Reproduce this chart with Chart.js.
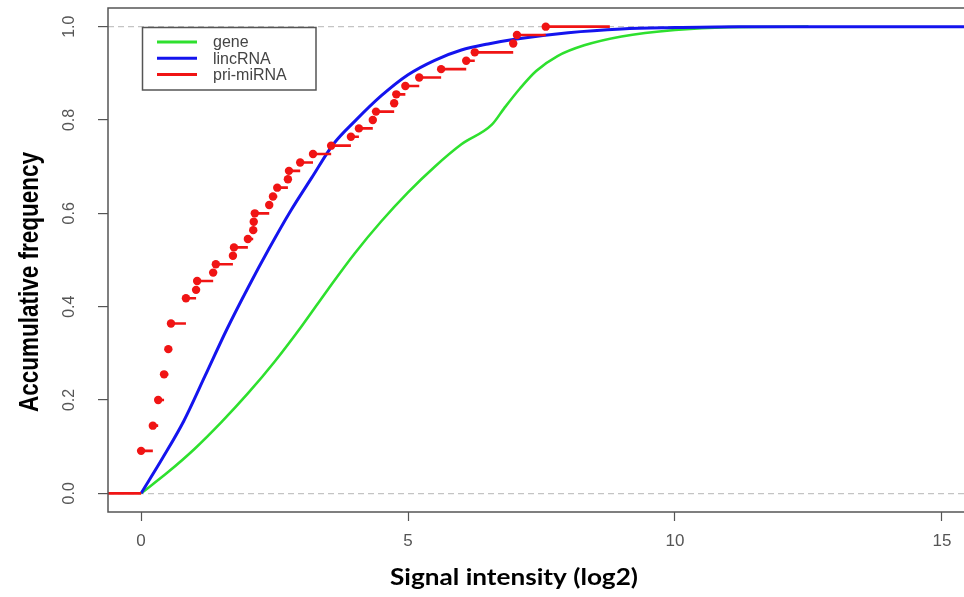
<!DOCTYPE html>
<html lang="en">
<head>
<meta charset="UTF-8">
<title>Accumulative frequency</title>
<script src="https://cdn.jsdelivr.net/npm/chart.js@4"></script>
<style>
  html, body { margin: 0; padding: 0; background: #fff; overflow: hidden; }
  canvas { display: block; }
</style>
</head>
<body>
<canvas id="ecdf" width="980" height="597"></canvas>
<script>
// values
const seriesNames = ['gene', 'lincRNA', 'pri-miRNA'];
const xTicks = [0, 5, 10, 15];
const yTicks = [0, 0.2, 0.4, 0.6, 0.8, 1.0];

const geneX = [0, 0.5, 1.0, 1.5, 2.0, 2.5, 3.0, 3.5, 4.0, 4.5, 5.0, 5.5, 6.0, 6.57, 6.8, 7.1, 7.4, 7.8, 8.3, 9.0, 10.0, 11.0, 12.5];
const geneY = [0, 0.045, 0.095, 0.152, 0.214, 0.282, 0.357, 0.437, 0.514, 0.583, 0.645, 0.7, 0.748, 0.79, 0.825, 0.868, 0.905, 0.937, 0.96, 0.979, 0.993, 0.999, 1.0];

const lincX = [0, 0.4, 0.8, 1.2, 1.6, 2.0, 2.4, 2.8, 3.2, 3.6, 4.0, 4.5, 5.0, 5.5, 6.0, 6.5, 7.0, 8.0, 9.0, 10.0, 11.2, 15.62];
const lincY = [0, 0.075, 0.155, 0.252, 0.35, 0.44, 0.525, 0.605, 0.677, 0.748, 0.797, 0.852, 0.897, 0.928, 0.95, 0.963, 0.973, 0.987, 0.995, 0.998, 1.0, 1.0];

// pri-miRNA step function: jump positions and heights
const priX = [0.0, 0.22, 0.32, 0.43, 0.51, 0.56, 0.84, 1.03, 1.05, 1.35, 1.40, 1.72, 1.74, 2.0, 2.10, 2.11, 2.13, 2.40, 2.47, 2.55,
              2.75, 2.77, 2.98, 3.22, 3.56, 3.93, 4.08, 4.34, 4.40, 4.74, 4.78, 4.95, 5.21, 5.62, 6.09, 6.25, 6.97, 7.04, 7.58];
const priY = [0.091, 0.145, 0.2, 0.255, 0.309, 0.364, 0.418, 0.436, 0.455, 0.473, 0.491, 0.509, 0.527, 0.545, 0.564, 0.582, 0.6, 0.618, 0.636, 0.655,
              0.673, 0.691, 0.709, 0.727, 0.745, 0.764, 0.782, 0.8, 0.818, 0.836, 0.855, 0.873, 0.891, 0.909, 0.927, 0.945, 0.964, 0.982, 1.0];
const priEnd = 8.78;

const xMin = -0.62, xMax = 15.62;
const yMin = -0.04, yMax = 1.04;

const colors = ['#2ee02e', '#1414ee', '#f01414'];

// horizontal pieces of the step function, no verticals (like plot.ecdf)
const priSegs = [{x: xMin, y: 0}, {x: priX[0], y: 0}, {x: priX[0], y: null}];
priX.forEach((v, i) => {
  const next = i < priX.length - 1 ? priX[i + 1] : priEnd;
  priSegs.push({x: v, y: priY[i]}, {x: next, y: priY[i]}, {x: next, y: null});
});

function fitText(ctx, text, font, cx, cy, w, rot) {
  ctx.save();
  ctx.font = font;
  ctx.fillStyle = '#000';
  ctx.textAlign = 'center';
  ctx.textBaseline = 'middle';
  ctx.translate(cx, cy);
  ctx.rotate(rot);
  const m = ctx.measureText(text).width;
  ctx.scale(w / m, 1);
  ctx.fillText(text, 0, 0);
  ctx.restore();
}

const decor = {
  id: 'decor',
  afterDraw(chart) {
    const {ctx, chartArea: a} = chart;
    const y = chart.scales.y;
    ctx.save();
    // frame
    ctx.strokeStyle = '#555';
    ctx.lineWidth = 1.5;
    ctx.strokeRect(a.left, a.top, a.right - a.left, a.bottom - a.top);

    // y tick labels, turned like R does
    ctx.fillStyle = '#555';
    ctx.font = '16px "Liberation Sans", Arial, sans-serif';
    ctx.textAlign = 'center';
    ctx.textBaseline = 'middle';
    y.ticks.forEach(t => {
      ctx.save();
      ctx.translate(70, y.getPixelForValue(t.value));
      ctx.rotate(-Math.PI / 2);
      ctx.fillText(t.value.toFixed(1), 0, 0);
      ctx.restore();
    });

    // axis titles
    fitText(ctx, 'Signal intensity (log2)', 'bold 22px Lato, sans-serif', 514, 578, 248, 0);
    fitText(ctx, 'Accumulative frequency', 'bold 28px "Liberation Sans", Arial, sans-serif', 30, 282, 260, -Math.PI / 2);

    // legend box
    ctx.strokeStyle = '#555';
    ctx.lineWidth = 1.5;
    ctx.strokeRect(142.5, 27.5, 173.5, 62.5);
    ctx.font = '16px "Liberation Sans", Arial, sans-serif';
    ctx.textAlign = 'left';
    seriesNames.forEach((name, i) => {
      const ly = 42 + i * 16.3;
      ctx.strokeStyle = colors[i];
      ctx.lineWidth = 3;
      ctx.beginPath();
      ctx.moveTo(157, ly);
      ctx.lineTo(197, ly);
      ctx.stroke();
      ctx.fillStyle = '#444';
      ctx.fillText(name, 213, ly + 1);
    });
    ctx.restore();
  }
};

new Chart(document.getElementById('ecdf'), {
  type: 'scatter',
  data: {
    datasets: [
      {
        label: seriesNames[0],
        data: geneX.map((v, i) => ({x: v, y: geneY[i]})),
        showLine: true,
        borderColor: colors[0],
        borderWidth: 2.6,
        pointRadius: 0,
        cubicInterpolationMode: 'monotone',
        order: 3
      },
      {
        label: seriesNames[1],
        data: lincX.map((v, i) => ({x: v, y: lincY[i]})),
        showLine: true,
        borderColor: colors[1],
        borderWidth: 3,
        pointRadius: 0,
        cubicInterpolationMode: 'monotone',
        order: 2
      },
      {
        label: seriesNames[2],
        data: priSegs,
        showLine: true,
        spanGaps: false,
        borderColor: colors[2],
        borderWidth: 2.6,
        pointRadius: 0,
        order: 1
      },
      {
        label: seriesNames[2] + ' points',
        data: priX.map((v, i) => ({x: v, y: priY[i]})),
        showLine: false,
        backgroundColor: colors[2],
        borderColor: colors[2],
        pointRadius: 4.2,
        pointBorderWidth: 0,
        order: 0
      }
    ]
  },
  options: {
    responsive: false,
    animation: false,
    devicePixelRatio: 1,
    layout: { padding: { left: 0, top: 8, right: 5, bottom: 0 } },
    plugins: {
      legend: { display: false },
      tooltip: { enabled: false }
    },
    scales: {
      x: {
        type: 'linear',
        min: xMin,
        max: xMax,
        afterBuildTicks: s => { s.ticks = xTicks.map(v => ({value: v})); },
        afterFit: s => { s.height = 85; },
        border: { display: false },
        grid: {
          drawOnChartArea: false,
          drawTicks: true,
          tickLength: 9,
          tickColor: '#555',
          tickWidth: 1.2
        },
        ticks: {
          autoSkip: false,
          maxRotation: 0,
          padding: 10,
          color: '#555',
          font: { family: '"Liberation Sans", Arial, sans-serif', size: 17 },
          callback: v => String(v)
        }
      },
      y: {
        type: 'linear',
        min: yMin,
        max: yMax,
        afterBuildTicks: s => { s.ticks = yTicks.map(v => ({value: v})); },
        afterFit: s => { s.width = 108; },
        border: { display: false, dash: [6, 4] },
        grid: {
          drawOnChartArea: true,
          drawTicks: true,
          tickLength: 10,
          tickColor: '#555',
          tickWidth: 1.2,
          lineWidth: 1.2,
          color: c => (c.tick && (c.tick.value === 0 || c.tick.value === 1)) ? '#c4c4c4' : 'rgba(0,0,0,0)'
        },
        ticks: { display: false }
      }
    }
  },
  plugins: [decor]
});
</script>
</body>
</html>
